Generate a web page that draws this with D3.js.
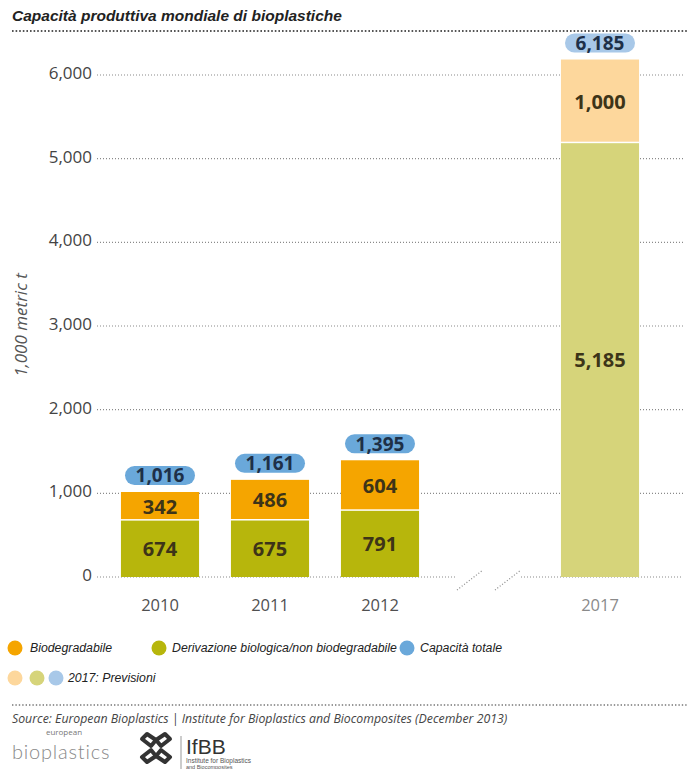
<!DOCTYPE html>
<html><head><meta charset="utf-8">
<script src="https://cdn.jsdelivr.net/npm/d3@7"></script>
<style>body{margin:0;background:#fff}svg{display:block}</style>
</head><body>
<svg id="c" width="688" height="769"></svg>
<script>
const years = ["2010","2011","2012","2017"];
const biodegradable = [342,486,604,1000];
const biobased = [674,675,791,5185];
const totals = [1016,1161,1395,6185];
const forecast = [false,false,false,true];
const yTicks = [0,1000,2000,3000,4000,5000,6000];
const xSlots = ["2010","2011","2012","gap","2017"];

const C = {
  orange:"#f5a500", green:"#b7b60c", blue:"#6aa8da",
  orangeL:"#fdd79c", greenL:"#d6d47a", blueL:"#a8c8e8"
};

const svg = d3.select("#c");
const fmt = d3.format(",");

const x = d3.scaleBand().domain(xSlots).range([105,655]).paddingInner(0.29).paddingOuter(0.145);
const y = d3.scaleLinear().domain([0,6000]).range([577,75]);

// title
svg.append("text").attr("x",12).attr("y",21)
  .attr("font-family","Liberation Sans, Arial, sans-serif").attr("font-weight","bold")
  .attr("font-style","italic").attr("font-size",15.5).attr("fill","#222")
  .text("Capacità produttiva mondiale di bioplastiche");
svg.append("line").attr("x1",12).attr("x2",688).attr("y1",31).attr("y2",31)
  .attr("stroke","#555").attr("stroke-width",1.8).attr("stroke-dasharray","1.6,2");

// gridlines
const grid = svg.append("g");
const dotted = sel => sel.attr("stroke","#8a8a8a").attr("stroke-width",1.2).attr("stroke-dasharray","1,2");
yTicks.forEach(t=>{
  if(t===0){
    grid.append("line").attr("x1",97).attr("x2",455).attr("y1",y(t)).attr("y2",y(t)).call(dotted);
    grid.append("line").attr("x1",521).attr("x2",683).attr("y1",y(t)).attr("y2",y(t)).call(dotted);
    [[457,483],[495,521]].forEach(([a,b])=>{
      grid.append("line").attr("x1",a).attr("x2",b).attr("y1",y(t)+13).attr("y2",y(t)-7).call(dotted);
    });
  } else {
    grid.append("line").attr("x1",97).attr("x2",683).attr("y1",y(t)).attr("y2",y(t)).call(dotted);
  }
});

// y axis labels
const yAxis = d3.axisLeft(y).tickValues(yTicks).tickFormat(d=>fmt(d)).tickSize(0).tickPadding(0);
const ya = svg.append("g").attr("transform","translate(92,0)").call(yAxis);
ya.select(".domain").remove();
ya.selectAll("text").attr("font-family","Open Sans, sans-serif").attr("font-size",17)
  .attr("fill","#444").attr("dy","0.2em");

svg.append("text").attr("transform","translate(27,325) rotate(-90)")
  .attr("text-anchor","middle").attr("font-family","Open Sans, sans-serif")
  .attr("font-style","italic").attr("font-size",17).attr("fill","#555")
  .text("1,000 metric t");

// bars
const data = years.map((yr,i)=>({yr, bio:biodegradable[i], based:biobased[i], tot:totals[i], fc:forecast[i]}));
const bars = svg.append("g");
data.forEach(d=>{
  const x0 = x(d.yr), w = x.bandwidth(), cx = x0 + w/2;
  const yb = y(d.based), yt = y(d.based + d.bio);
  bars.append("rect").attr("x",x0).attr("y",yb).attr("width",w).attr("height",y(0)-yb)
    .attr("fill", d.fc?C.greenL:C.green);
  bars.append("rect").attr("x",x0).attr("y",yt).attr("width",w).attr("height",yb-yt-1.5)
    .attr("fill", d.fc?C.orangeL:C.orange);
  bars.append("text").attr("x",cx).attr("y",(yb+yt)/2).attr("dy","0.36em")
    .attr("text-anchor","middle").attr("font-family","Open Sans, sans-serif")
    .attr("font-weight","bold").attr("font-size",20).attr("fill","#3d3418")
    .text(fmt(d.bio));
  bars.append("text").attr("x",cx).attr("y",(yb+y(0))/2).attr("dy","0.36em")
    .attr("text-anchor","middle").attr("font-family","Open Sans, sans-serif")
    .attr("font-weight","bold").attr("font-size",20).attr("fill","#3d3418")
    .text(fmt(d.based));
  const by = y(d.tot) - 7;
  bars.append("rect").attr("x",cx-35).attr("y",by-19).attr("width",70).attr("height",19)
    .attr("rx",9.5).attr("fill", d.fc?C.blueL:C.blue);
  bars.append("text").attr("x",cx).attr("y",by-9.5).attr("dy","0.36em")
    .attr("text-anchor","middle").attr("font-family","Open Sans, sans-serif")
    .attr("font-weight","bold").attr("font-size",19).attr("fill","#1e3048")
    .text(fmt(d.tot));
  bars.append("text").attr("x",cx).attr("y",605).attr("dy","0.36em")
    .attr("text-anchor","middle").attr("font-family","Open Sans, sans-serif")
    .attr("font-size",16.5).attr("fill", d.fc?"#8a8a8a":"#505050")
    .text(d.yr);
});

// legend
const legendRow1 = [
  {c:C.orange, t:"Biodegradabile", cx:15, tx:30},
  {c:C.green, t:"Derivazione biologica/non biodegradabile", cx:159, tx:172},
  {c:C.blue, t:"Capacità totale", cx:407, tx:420}
];
const lg = svg.append("g");
const legFont = sel => sel.attr("font-family","Liberation Sans, Arial, sans-serif")
  .attr("font-style","italic").attr("font-size",12.3).attr("fill","#222");
legendRow1.forEach(l=>{
  lg.append("circle").attr("cx",l.cx).attr("cy",648).attr("r",7.5).attr("fill",l.c);
  lg.append("text").attr("x",l.tx).attr("y",648).attr("dy","0.36em").call(legFont).text(l.t);
});
[[C.orangeL,15],[C.greenL,37],[C.blueL,56]].forEach(([c,cx])=>{
  lg.append("circle").attr("cx",cx).attr("cy",678).attr("r",7.5).attr("fill",c);
});
lg.append("text").attr("x",68).attr("y",678).attr("dy","0.36em").call(legFont).text("2017: Previsioni");

// footer
svg.append("line").attr("x1",12).attr("x2",688).attr("y1",705).attr("y2",705)
  .attr("stroke","#777").attr("stroke-width",1.5).attr("stroke-dasharray","1.4,2");
svg.append("text").attr("x",12).attr("y",723)
  .attr("font-family","Open Sans, sans-serif").attr("font-style","italic")
  .attr("font-size",12.3).attr("fill","#444")
  .text("Source: European Bioplastics | Institute for Bioplastics and Biocomposites (December 2013)");

// logos
svg.append("text").attr("x",64).attr("y",735).attr("text-anchor","middle")
  .attr("font-family","Open Sans, sans-serif").attr("font-size",8).attr("fill","#777").text("european");
svg.append("text").attr("x",12).attr("y",759)
  .attr("font-family","Lato, Open Sans, sans-serif").attr("font-weight",300)
  .attr("font-size",20).attr("fill","#888").attr("letter-spacing",0.8).text("bioplastics");

const lgo = svg.append("g").attr("fill","none").attr("stroke","#333").attr("stroke-width",4)
  .attr("stroke-linejoin","round");
lgo.append("path").attr("d","M151,746 L142,739 L147,734 L156,740 Z");
lgo.append("path").attr("d","M161,746 L170,739 L165,734 L156,740 Z");
lgo.append("path").attr("d","M151,750 L142,757 L147,762 L156,756 Z");
lgo.append("path").attr("d","M161,750 L170,757 L165,762 L156,756 Z");
svg.append("line").attr("x1",181).attr("x2",181).attr("y1",736).attr("y2",769)
  .attr("stroke","#999").attr("stroke-width",1);
svg.append("text").attr("x",186).attr("y",754)
  .attr("font-family","Liberation Sans, Arial, sans-serif")
  .attr("font-size",21).attr("fill","#333").text("IfBB");
svg.append("text").attr("x",186).attr("y",763)
  .attr("font-family","Liberation Sans, Arial, sans-serif")
  .attr("font-size",6.5).attr("fill","#555").text("Institute for Bioplastics");
svg.append("text").attr("x",186).attr("y",769)
  .attr("font-family","Liberation Sans, Arial, sans-serif")
  .attr("font-size",5.5).attr("fill","#555").text("and Biocomposites");
</script>
</body></html>
